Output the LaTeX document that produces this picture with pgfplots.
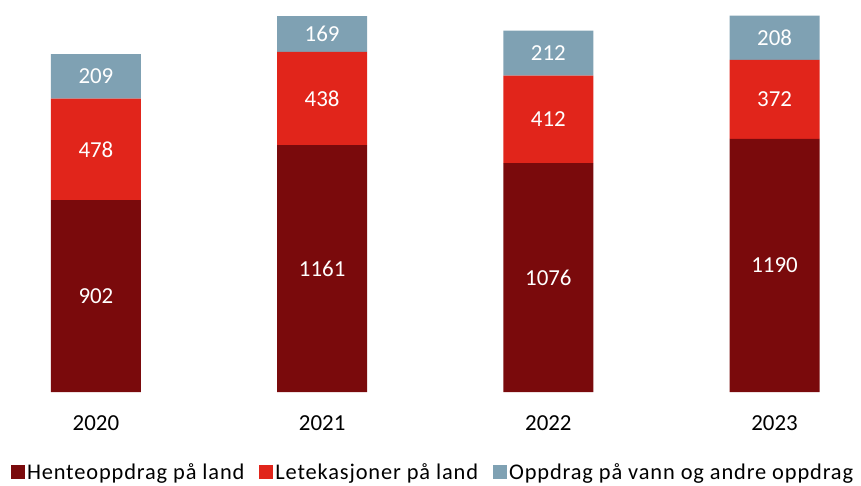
\documentclass[border=0pt]{standalone}
\usepackage{pgfplots}
\pgfplotsset{compat=1.18}
\usepackage{fontspec}
\setmainfont{Carlito}
\newfontfamily\legfont[LetterSpace=3.8]{Carlito}
\definecolor{cA}{HTML}{7A0A0C}
\definecolor{cB}{HTML}{E1251B}
\definecolor{cC}{HTML}{7FA1B3}
\begin{document}
\begin{tikzpicture}
\pgfplotsset{common/.style={
  scale only axis, width=861bp, height=392bp,
  xmin=-0.424, xmax=3.382, ymin=0, ymax=1843,
  /pgf/number format/assume math mode=true,
}}
\begin{axis}[common,
  ybar stacked, bar width=90bp,
  axis line style={draw=none}, major tick length=0pt,
  ytick=\empty,
  xtick={0,1,2,3}, xticklabels={2020,2021,2022,2023},
  xticklabel style={font=\fontsize{23}{27}\selectfont, anchor=north, yshift=-20bp},
  legend columns=3,
  legend style={draw=none, at={(0.503,-0.170)}, anchor=north,
    font=\legfont\fontsize{22.5}{26}\selectfont, inner xsep=0pt, inner ysep=2.5bp,
    /tikz/every even column/.append style={column sep=13bp}},
  legend image code/.code={\fill[#1] (0bp,-7bp) rectangle (14bp,7bp);},
]
\addplot[fill=cA, draw=none] coordinates {(0,902) (1,1161) (2,1076) (3,1190)};
\addplot[fill=cB, draw=none] coordinates {(0,478) (1,438) (2,412) (3,372)};
\addplot[fill=cC, draw=none] coordinates {(0,209) (1,169) (2,212) (3,208)};
\legend{Henteoppdrag på land, Letekasjoner på land, Oppdrag på vann og andre oppdrag}
\end{axis}
\begin{axis}[common, hide axis]
\addplot[only marks, mark=none, point meta=explicit symbolic, nodes near coords,
  nodes near coords style={anchor=center, text=white, font=\fontsize{23}{27}\selectfont}]
  coordinates {
  (0,451)[902] (1,580.5)[1161] (2,538)[1076] (3,595)[1190]
  (0,1141)[478] (1,1380)[438] (2,1282)[412] (3,1376)[372]
  (0,1484.5)[209] (1,1683.5)[169] (2,1594)[212] (3,1666)[208]
  };
\end{axis}
\end{tikzpicture}
\end{document}
